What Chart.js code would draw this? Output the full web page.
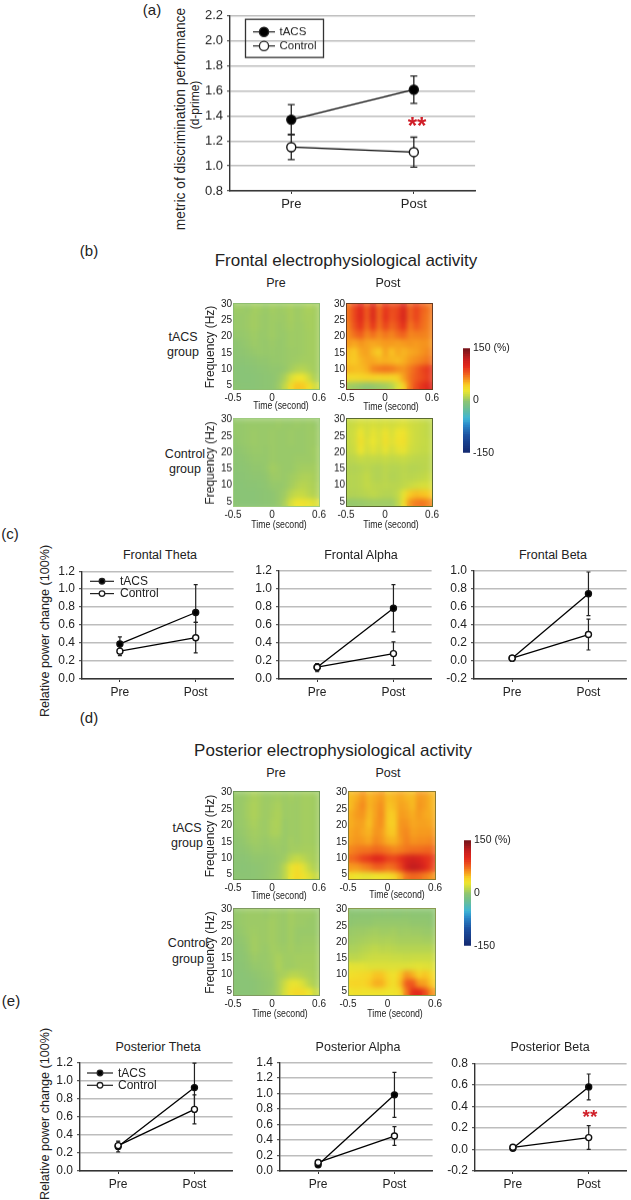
<!DOCTYPE html>
<html><head><meta charset="utf-8">
<script src="https://cdn.jsdelivr.net/npm/chart.js@4"></script>
<style>
html,body{margin:0;padding:0;background:#fff;}
#page{position:relative;width:631px;height:1200px;overflow:hidden;background:#fff;font-family:"Liberation Sans",Arial,sans-serif;color:#222;}
canvas{position:absolute;}
.t{position:absolute;white-space:nowrap;line-height:1;transform:translate(-50%,-50%);}
.blur{position:absolute;box-sizing:border-box;-webkit-backdrop-filter:blur(2.8px);backdrop-filter:blur(2.8px);}
</style></head><body><div id="page"></div>
<script>
// ---------- line panel data ----------
const groups=['Pre','Post'];
const seriesNames=['tACS','Control'];
const aTacs=[1.37,1.61], aTacsErr=[[1.25,1.49],[1.50,1.72]];
const aCtrl=[1.15,1.11], aCtrlErr=[[1.05,1.25],[0.99,1.23]];
const cThetaTacs=[0.39,0.74], cThetaTacsErr=[[0.31,0.47],[0.63,1.05]];
const cThetaCtrl=[0.31,0.46], cThetaCtrlErr=[[0.26,0.36],[0.29,0.63]];
const cAlphaTacs=[0.13,0.78], cAlphaTacsErr=[[0.09,0.17],[0.52,1.04]];
const cAlphaCtrl=[0.13,0.28], cAlphaCtrlErr=[[0.08,0.17],[0.15,0.41]];
const cBetaTacs=[0.03,0.74], cBetaTacsErr=[[0.01,0.05],[0.50,0.98]];
const cBetaCtrl=[0.03,0.29], cBetaCtrlErr=[[0.01,0.05],[0.12,0.46]];
const eThetaTacs=[0.27,0.92], eThetaTacsErr=[[0.21,0.33],[0.65,1.19]];
const eThetaCtrl=[0.28,0.68], eThetaCtrlErr=[[0.24,0.32],[0.52,0.84]];
const eAlphaTacs=[0.08,0.98], eAlphaTacsErr=[[0.05,0.11],[0.69,1.27]];
const eAlphaCtrl=[0.11,0.45], eAlphaCtrlErr=[[0.08,0.14],[0.33,0.57]];
const eBetaTacs=[0.01,0.58], eBetaTacsErr=[[-0.01,0.03],[0.46,0.70]];
const eBetaCtrl=[0.02,0.11], eBetaCtrlErr=[[0.00,0.04],[0.00,0.22]];

// ---------- heat map data (percent change; rows from 30 Hz down to 3.4 Hz, columns -0.5 s to 0.6 s) ----------
const heatEdges=[30.2,27.5,24.9,22.2,19.5,16.8,14.1,11.4,8.8,6.1,3.4];
const heatCols=['c1','c2','c3','c4','c5','c6','c7','c8','c9','c10','c11','c12','c13','c14'];
const heatXTicks=[-0.5,0,0.6];
const heatYTicks=[5,10,15,20,25,30];
const frontalTacsPre=[
[4,4,3,6,5,3,6,4,5,7,4,6,8,6],
[3,3,4,6,4,3,5,4,4,7,4,6,7,6],
[3,3,4,6,4,3,5,3,4,6,4,5,7,6],
[2,2,3,5,3,3,5,3,3,5,4,5,6,6],
[0,1,2,4,3,2,4,2,3,5,4,5,6,6],
[-1,0,1,2,3,2,3,2,3,4,4,5,6,6],
[-2,-2,-1,0,1,1,2,2,3,4,5,6,6,6],
[-3,-4,-3,-2,-1,0,1,1,2,6,10,11,8,6],
[-3,-4,-4,-3,-2,-1,0,2,8,22,30,30,18,8],
[-2,-3,-3,-3,-2,-1,0,4,14,36,48,46,34,20]];
const frontalTacsPost=[
[72,88,102,78,106,74,96,84,88,108,76,90,78,72],
[72,88,104,78,108,74,98,82,90,110,76,90,76,70],
[68,84,96,74,96,72,90,76,84,98,70,82,74,68],
[64,74,80,66,74,64,72,66,74,78,66,68,68,66],
[60,56,62,58,56,58,60,60,58,60,62,60,62,62],
[50,46,56,58,50,44,58,48,56,52,56,58,62,66],
[48,46,52,56,56,52,54,52,50,54,60,64,68,72],
[52,50,50,54,66,70,72,70,64,62,70,78,88,94],
[38,38,40,42,42,40,42,40,44,58,72,80,86,92],
[6,4,2,0,2,4,6,10,24,42,70,86,96,104]];
const frontalCtrlPre=[
[2,2,3,3,3,3,3,4,3,3,4,3,4,3],
[2,2,3,4,3,3,4,3,3,4,3,3,4,4],
[1,2,3,4,3,3,4,3,3,4,3,3,4,4],
[0,1,2,3,3,2,4,3,3,3,3,3,4,5],
[-1,0,1,2,2,2,4,3,3,3,4,4,4,5],
[-2,-1,0,1,1,2,6,4,3,3,5,6,6,6],
[-3,-2,-1,0,0,1,4,4,3,5,7,9,9,7],
[-3,-3,-2,-2,-1,0,2,2,3,6,10,12,10,8],
[-3,-3,-3,-3,-2,-1,0,2,5,12,16,16,12,10],
[-2,-3,-3,-3,-2,-1,0,2,8,22,30,32,28,24]];
const frontalCtrlPost=[
[16,18,22,20,22,20,22,20,22,24,20,18,16,14],
[17,20,30,20,28,22,32,22,30,32,22,18,16,14],
[16,20,34,22,30,22,34,24,32,34,22,18,16,15],
[15,18,30,20,26,20,28,20,26,28,20,17,15,15],
[12,13,16,14,15,14,16,14,15,16,14,13,13,13],
[10,10,11,13,11,10,13,11,11,13,11,11,12,13],
[11,11,12,15,11,10,13,10,11,13,12,13,14,16],
[11,11,12,15,13,12,13,12,12,14,17,20,22,22],
[10,10,11,12,14,12,11,11,14,28,46,50,48,46],
[2,2,3,4,5,5,5,5,12,34,62,70,72,66]];
const posteriorTacsPre=[
[3,3,5,8,6,4,5,6,4,6,4,6,6,5],
[3,3,6,9,6,4,6,8,4,5,4,6,6,5],
[2,3,6,9,6,4,7,9,4,5,4,6,6,5],
[2,3,5,8,5,4,8,9,3,5,4,6,6,5],
[1,2,4,6,5,4,8,8,3,5,4,6,6,5],
[0,1,3,5,4,3,5,5,3,6,4,6,6,5],
[-1,0,1,3,3,2,3,4,3,6,6,7,7,6],
[-2,-2,-1,1,1,1,2,3,5,12,16,13,9,7],
[-2,-3,-2,-1,0,1,2,4,12,28,36,26,14,9],
[-1,-2,-2,-1,0,1,3,5,12,30,38,32,24,16]];
const posteriorTacsPost=[
[50,54,62,52,56,60,50,52,56,52,50,60,58,52],
[50,58,66,52,58,64,48,50,58,56,50,62,58,52],
[54,60,62,50,58,66,46,46,60,58,54,60,56,54],
[54,58,58,48,60,64,46,44,62,62,56,58,58,56],
[56,60,56,52,62,60,48,46,62,66,58,60,60,60],
[58,62,60,56,66,62,54,52,60,68,62,64,64,66],
[66,70,72,72,76,74,70,66,68,72,74,74,76,76],
[74,80,90,94,104,100,90,88,96,108,112,108,98,92],
[60,60,66,70,78,78,72,76,88,112,122,118,104,88],
[34,30,28,28,30,32,34,40,54,72,76,74,68,62]];
const posteriorCtrlPre=[
[2,3,4,4,4,3,5,4,3,6,4,4,4,3],
[2,3,4,4,4,4,6,4,3,6,4,4,3,3],
[1,2,4,5,4,4,6,4,3,6,3,3,3,3],
[0,1,3,6,4,4,6,4,3,6,3,4,4,4],
[-1,0,2,6,4,3,6,5,4,6,4,5,5,5],
[-2,-1,1,4,3,3,5,8,5,5,6,6,6,6],
[-3,-2,0,2,2,3,4,9,5,5,6,7,7,6],
[-3,-3,-2,0,1,2,3,7,8,12,12,10,8,7],
[-3,-3,-3,-2,0,1,2,8,18,28,28,22,12,8],
[-2,-3,-3,-2,0,1,3,8,22,34,38,36,30,16]];
const posteriorCtrlPost=[
[-2,-2,-1,-1,0,-1,0,-1,-1,0,-1,-1,-1,-1],
[0,1,1,1,2,2,2,2,2,2,1,1,1,0],
[3,4,4,5,6,5,5,6,4,5,4,4,3,3],
[5,6,7,8,9,8,9,8,7,7,7,7,6,6],
[8,9,11,12,14,12,13,12,11,11,11,11,11,11],
[13,13,15,17,18,18,18,17,17,16,17,17,17,17],
[26,26,26,24,24,24,24,24,24,24,25,26,25,24],
[34,36,38,40,48,48,38,32,46,62,54,42,48,38],
[40,42,40,46,54,54,42,34,50,80,82,60,58,46],
[32,34,32,32,32,32,30,32,36,70,98,100,86,62]];

// ---------- colour scale ----------
const scaleValues=[150,120,100,80,60,45,30,15,0,-20,-50,-70,-100,-150];
const scaleColors=['#74141a','#c81e1e','#e2281c','#ef5a1e','#f69a1e','#f8cf24','#eee52e','#c3d947','#8fc571','#6fbf90','#3fb5d6','#2a86c8','#1c50a0','#14286e'];
const colorbarTicks=[150,0,-150];
function hexRgb(h){return [1,3,5].map(i=>parseInt(h.substr(i,2),16));}
function colorOf(v){
  for(let i=0;i<scaleValues.length-1;i++){
    if(v<=scaleValues[i]&&v>=scaleValues[i+1]){
      const f=(scaleValues[i]-v)/(scaleValues[i]-scaleValues[i+1]);
      const a=hexRgb(scaleColors[i]),b=hexRgb(scaleColors[i+1]);
      return 'rgb('+a.map((c,k)=>Math.round(c+(b[k]-c)*f)).join(',')+')';
    }
  }
  return scaleColors[0];
}

// ---------- helpers ----------
const page=document.getElementById('page');
const SANS='"Liberation Sans",Arial,sans-serif';
const DARK='#333';
function label(text,x,y,size,o){
  o=o||{};
  const d=document.createElement('div');d.className='t';d.textContent=text;
  d.style.left=x+'px';d.style.top=y+'px';d.style.fontSize=size+'px';
  if(o.color)d.style.color=o.color;
  if(o.weight)d.style.fontWeight=o.weight;
  if(o.rot)d.style.transform='translate(-50%,-50%) rotate(-90deg)';
  if(o.sx)d.style.transform='translate(-50%,-50%) scaleX('+o.sx+')';
  page.appendChild(d);
}
function timeLabel(x,y){label('Time (second)',x,y,11.5,{sx:0.76});}
function makeCanvas(x,y,w,h){
  const c=document.createElement('canvas');c.width=w;c.height=h;
  c.style.left=x+'px';c.style.top=y+'px';c.style.width=w+'px';c.style.height=h+'px';
  page.appendChild(c);return c;
}
const errorBars={id:'errorBars',beforeDatasetsDraw(chart,args,opts){
  const ctx=chart.ctx,xs=chart.scales.x,ys=chart.scales.y;
  ctx.save();ctx.strokeStyle='#222';ctx.lineWidth=opts.width;
  chart.data.datasets.forEach(ds=>{
    ds.errs.forEach((e,i)=>{
      const px=xs.getPixelForValue(i),a=ys.getPixelForValue(e[0]),b=ys.getPixelForValue(e[1]);
      ctx.beginPath();ctx.moveTo(px,a);ctx.lineTo(px,b);
      ctx.moveTo(px-opts.cap,a);ctx.lineTo(px+opts.cap,a);
      ctx.moveTo(px-opts.cap,b);ctx.lineTo(px+opts.cap,b);
      ctx.stroke();
    });
  });
  ctx.restore();
}};
const miniLegend={id:'miniLegend',afterDraw(chart,args,o){
  if(!o.show)return;
  const ctx=chart.ctx;ctx.save();
  if(o.box){ctx.strokeStyle=DARK;ctx.lineWidth=1.3;ctx.strokeRect(o.box[0],o.box[1],o.box[2],o.box[3]);}
  chart.data.datasets.forEach((ds,i)=>{
    const y=o.y+i*o.dy;
    ctx.strokeStyle='#222';ctx.lineWidth=1.2;
    ctx.beginPath();ctx.moveTo(o.x0,y);ctx.lineTo(o.x1,y);ctx.stroke();
    ctx.beginPath();ctx.arc((o.x0+o.x1)/2,y,o.r,0,Math.PI*2);
    ctx.fillStyle=ds.pointBackgroundColor;ctx.fill();ctx.lineWidth=1.3;ctx.stroke();
    ctx.fillStyle='#222';ctx.font=o.font;ctx.textBaseline='middle';ctx.textAlign='left';
    ctx.fillText(ds.label,o.tx,y+0.5);
  });
  ctx.restore();
}};
function lineChart(p){
  const L=50,T=9,R=3,B=24;
  const w=p.x1-p.x0+L+R,h=p.y1-p.y0+T+B;
  const c=makeCanvas(p.x0-L,p.y0-T,w,h);
  const mk=(name,vals,errs,fill,ord)=>({label:name,data:vals,errs:errs,borderColor:'#000',borderWidth:1.3,
    pointRadius:p.r,pointHoverRadius:p.r,pointBorderWidth:1.4,pointBorderColor:'#111',pointBackgroundColor:fill,order:ord,tension:0,fill:false,clip:false});
  const leg=p.legend?Object.assign({show:true},p.legend):{show:false};
  if(leg.show){leg.x0-=p.x0-L;leg.x1-=p.x0-L;leg.tx-=p.x0-L;leg.y-=p.y0-T;
    if(leg.box)leg.box=[leg.box[0]-(p.x0-L),leg.box[1]-(p.y0-T),leg.box[2],leg.box[3]];}
  new Chart(c,{type:'line',
    data:{labels:groups,datasets:[mk(seriesNames[0],p.tacs,p.tacsErr,'#000',2),mk(seriesNames[1],p.ctrl,p.ctrlErr,'#fff',1)]},
    plugins:[errorBars,miniLegend],
    options:{responsive:false,animation:false,devicePixelRatio:1,
      layout:{padding:{top:T,right:R,left:0,bottom:0}},
      plugins:{legend:{display:false},tooltip:{enabled:false},errorBars:{cap:p.cap,width:p.errW},miniLegend:leg},
      scales:{
        x:{type:'category',offset:true,afterFit(s){s.height=B;},
          grid:{drawOnChartArea:false,drawTicks:true,tickLength:3,color:DARK},
          border:{color:DARK,width:1.6},
          ticks:{color:'#222',font:{size:p.font,family:SANS},padding:p.xPad,maxRotation:0,autoSkip:false}},
        y:{type:'linear',min:p.min,max:p.max,afterFit(s){s.width=L;},
          grid:{color:'#bdbdbd',lineWidth:1.4,drawTicks:true,tickLength:3,tickColor:DARK,tickWidth:1},
          border:{color:DARK,width:1.4},
          ticks:{stepSize:p.step,autoSkip:false,color:'#222',font:{size:p.font,family:SANS},padding:4,callback:v=>(Math.abs(v)<1e-9?0:+v).toFixed(1)}}
      }}});
}
function heatChart(name,vals,x0,y0,x1,y1,edge,B,yTitle){
  const L=30,T=6,R=8;
  const c=makeCanvas(x0-L,y0-T,x1-x0+L+R,y1-y0+T+B);
  const datasets=vals.map((row,i)=>({label:name+' row '+i,xAxisID:'x',yAxisID:'y',
    data:row.map(()=>[heatEdges[i+1],heatEdges[i]]),backgroundColor:row.map(colorOf),
    grouped:false,barPercentage:1,categoryPercentage:1,borderWidth:0,inflateAmount:0.6}));
  new Chart(c,{type:'bar',data:{labels:heatCols,datasets},
    options:{responsive:false,animation:false,devicePixelRatio:1,
      layout:{padding:{top:T,right:R,left:0,bottom:0}},
      plugins:{legend:{display:false},tooltip:{enabled:false}},
      scales:{
        x:{type:'category',display:false,offset:true},
        x2:{type:'linear',position:'bottom',display:true,offset:false,min:-0.5,max:0.6,
          afterBuildTicks(s){s.ticks=heatXTicks.map(v=>({value:v}));},
          afterFit(s){s.height=B;},
          grid:{display:false,drawTicks:false},border:{display:false},
          ticks:{color:'#222',font:{size:10,family:SANS},padding:2,maxRotation:0,autoSkip:false,callback:v=>String(v)}},
        y:{type:'linear',min:3.4,max:30.2,
          afterBuildTicks(s){s.ticks=heatYTicks.map(v=>({value:v}));},
          afterFit(s){s.width=L;},
          grid:{display:false,drawTicks:false},border:{display:false},
          ticks:{color:'#222',font:{size:10,family:SANS},padding:1,autoSkip:false},
          title:{display:yTitle,text:'Frequency (Hz)',color:'#222',font:{size:12,family:SANS},padding:0}}
      }}});
  const b=document.createElement('div');b.className='blur';
  b.style.left=x0+'px';b.style.top=y0+'px';b.style.width=(x1-x0)+'px';b.style.height=(y1-y0)+'px';
  b.style.border='1px solid '+edge;
  page.appendChild(b);
}
function colorbar(x0,y0,x1,y1){
  const T=8,B=8,R=50;
  const c=makeCanvas(x0,y0-T,x1-x0+R,y1-y0+T+B);
  const lv=[];for(let v=150;v>-150;v-=5)lv.push(v);
  const datasets=lv.map(v=>({label:'scale '+v,data:[[v-5,v]],backgroundColor:colorOf(v-2.5),grouped:false,barPercentage:1,categoryPercentage:1,borderWidth:0,inflateAmount:0.5}));
  new Chart(c,{type:'bar',data:{labels:['scale'],datasets},
    options:{responsive:false,animation:false,devicePixelRatio:1,
      layout:{padding:{top:T,bottom:B}},
      plugins:{legend:{display:false},tooltip:{enabled:false}},
      scales:{x:{display:false,offset:true},
        y:{position:'right',min:-150,max:150,
          afterBuildTicks(s){s.ticks=colorbarTicks.map(v=>({value:v}));},
          afterFit(s){s.width=R;},
          grid:{display:false,drawTicks:false},border:{display:false},
          ticks:{color:'#222',font:{size:10.5,family:SANS},padding:3,autoSkip:false,callback:v=>v===150?'150 (%)':String(v)}}}}});
}

// ---------- panel (a) ----------
label('(a)',152,9,15);
label('metric of discrimination performance',181,119,13.8,{rot:1});
label('(d-prime)',195,105,12,{rot:1});
lineChart({x0:230,x1:478,y0:13.3,y1:190.7,min:0.8,max:2.2,step:0.2,tacs:aTacs,tacsErr:aTacsErr,ctrl:aCtrl,ctrlErr:aCtrlErr,
  r:4.5,cap:3.5,errW:1.3,font:13,xPad:3,
  legend:{x0:253,x1:275,tx:279.5,y:32,dy:14,r:4.6,font:'11.5px '+SANS,box:[245.5,19.5,78,38]}});
label('**',417,126,24,{color:'#d0202a',weight:'bold'});

// ---------- panel (b) ----------
label('(b)',89,250,15);
label('Frontal electrophysiological activity',346,260,17);
label('Pre',276,283,12.5);label('Post',388,283,12.5);
label('tACS',183,337,12.5);label('group',183,352,12.5);
label('Control',185,454,12.5);label('group',185,469,12.5);
heatChart('Frontal tACS Pre',frontalTacsPre,232.5,302.5,320,389.5,'#8fbf70',24,true);
heatChart('Frontal tACS Post',frontalTacsPost,346,302.5,433,389.5,'#6a3a20',24,false);
heatChart('Frontal Control Pre',frontalCtrlPre,232.5,418,320,506.5,'#a0cc80',25,true);
heatChart('Frontal Control Post',frontalCtrlPost,346,418,433,506.5,'#5a6a30',25,false);
timeLabel(280.5,406);timeLabel(391,406.5);timeLabel(279,524.5);timeLabel(391,524.5);
colorbar(463,346.5,470,454);

// ---------- panel (c) ----------
label('(c)',10,533,15);
label('Relative power change (100%)',45,631,12.6,{rot:1});
label('Frontal Theta',160,555,12.5);label('Frontal Alpha',361,555,12.5);label('Frontal Beta',553,555,12.5);
lineChart({x0:82,x1:235,y0:568.7,y1:679,min:0,max:1.2,step:0.2,tacs:cThetaTacs,tacsErr:cThetaTacsErr,ctrl:cThetaCtrl,ctrlErr:cThetaCtrlErr,
  r:3,cap:2,errW:1.2,font:12,xPad:3,legend:{x0:90,x1:114,tx:120,y:581,dy:12.3,r:2.8,font:'12px '+SANS}});
lineChart({x0:279,x1:433,y0:568,y1:679,min:0,max:1.2,step:0.2,tacs:cAlphaTacs,tacsErr:cAlphaTacsErr,ctrl:cAlphaCtrl,ctrlErr:cAlphaCtrlErr,
  r:3,cap:2,errW:1.2,font:12,xPad:3});
lineChart({x0:474,x1:628,y0:568,y1:679,min:-0.2,max:1.0,step:0.2,tacs:cBetaTacs,tacsErr:cBetaTacsErr,ctrl:cBetaCtrl,ctrlErr:cBetaCtrlErr,
  r:3,cap:2,errW:1.2,font:12,xPad:3});

// ---------- panel (d) ----------
label('(d)',89,717,15);
label('Posterior electrophysiological activity',333,750,17);
label('Pre',276,773,12.5);label('Post',388,773,12.5);
label('tACS',187,828,12.5);label('group',187,843,12.5);
label('Control',188,943,12.5);label('group',188,959,12.5);
heatChart('Posterior tACS Pre',posteriorTacsPre,232.5,791,320,880,'#6f9a55',23,true);
heatChart('Posterior tACS Post',posteriorTacsPost,348,791,436,880,'#8a7a30',23,false);
heatChart('Posterior Control Pre',posteriorCtrlPre,232.5,908,320,996,'#7f9a60',25,true);
heatChart('Posterior Control Post',posteriorCtrlPost,348,908,436,996,'#8a9a50',25,false);
timeLabel(279,896);timeLabel(397,894.5);timeLabel(280,1014);timeLabel(395,1014);
colorbar(464,839,471,947);

// ---------- panel (e) ----------
label('(e)',11,1000,15);
label('Relative power change (100%)',45,1114,12.6,{rot:1});
label('Posterior Theta',158,1047,12.5);label('Posterior Alpha',358,1047,12.5);label('Posterior Beta',550,1047,12.5);
lineChart({x0:80,x1:234,y0:1060,y1:1171,min:0,max:1.2,step:0.2,tacs:eThetaTacs,tacsErr:eThetaTacsErr,ctrl:eThetaCtrl,ctrlErr:eThetaCtrlErr,
  r:3,cap:2,errW:1.2,font:12,xPad:3,legend:{x0:87,x1:113,tx:118,y:1073,dy:12.3,r:2.8,font:'12px '+SANS}});
lineChart({x0:280,x1:434,y0:1060,y1:1171,min:0,max:1.4,step:0.2,tacs:eAlphaTacs,tacsErr:eAlphaTacsErr,ctrl:eAlphaCtrl,ctrlErr:eAlphaCtrlErr,
  r:3,cap:2,errW:1.2,font:12,xPad:3});
lineChart({x0:475,x1:628,y0:1061,y1:1171,min:-0.2,max:0.8,step:0.2,tacs:eBetaTacs,tacsErr:eBetaTacsErr,ctrl:eBetaCtrl,ctrlErr:eBetaCtrlErr,
  r:3,cap:2,errW:1.2,font:12,xPad:3});
label('**',590,1116,19,{color:'#d0202a',weight:'bold'});
</script></body></html>
